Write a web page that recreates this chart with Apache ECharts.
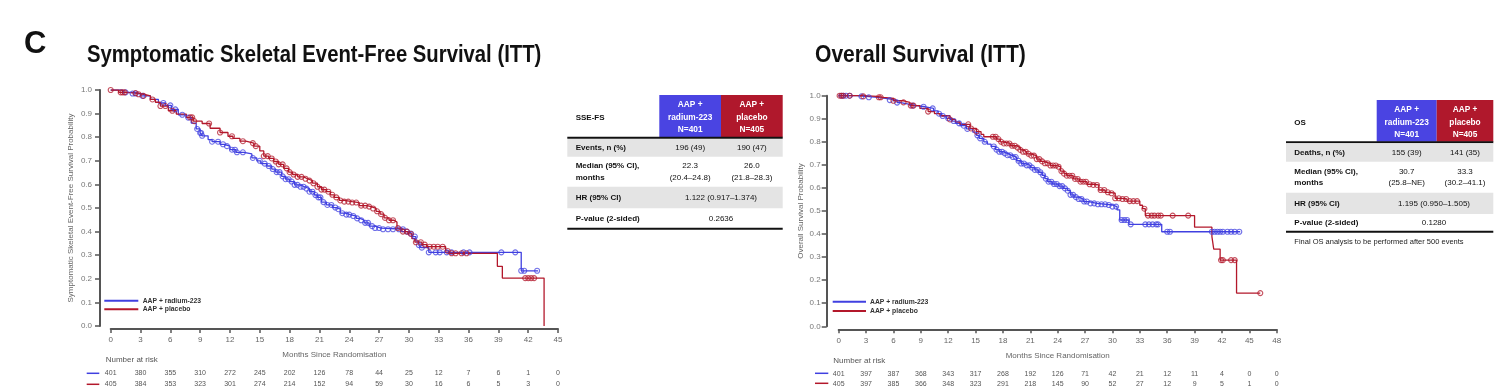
<!DOCTYPE html>
<html><head><meta charset="utf-8">
<script src="https://cdn.jsdelivr.net/npm/echarts@6/dist/echarts.min.js"></script>
<style>html,body{margin:0;padding:0;background:#fff}#c{width:1499px;height:390px}</style>
</head><body><div id="c"></div>
<script>
// ---------- DATA ----------
const riskTicks = [0,3,6,9,12,15,18,21,24,27,30,33,36,39,42,45,48];
// SSE-FS (left) step curves [month, survival]
const sseRadium = [[0,1],[1.2,0.99],[2.2,0.985],[3.0,0.975],[4.0,0.96],[4.8,0.945],[5.5,0.935],[6.1,0.918],[6.8,0.895],[7.6,0.883],[8.1,0.86],[8.6,0.835],[9.0,0.818],[9.2,0.806],[9.8,0.79],[10.2,0.781],[11.0,0.77],[11.4,0.762],[12.0,0.747],[12.6,0.736],[13.4,0.729],[14.2,0.712],[14.7,0.70],[15.1,0.688],[15.7,0.678],[16.2,0.665],[16.6,0.652],[17.2,0.634],[17.6,0.622],[18.0,0.612],[18.5,0.598],[19.0,0.59],[19.5,0.582],[20.0,0.569],[20.5,0.555],[20.8,0.545],[21.2,0.525],[21.7,0.513],[22.3,0.502],[22.7,0.495],[23.1,0.478],[23.6,0.472],[24.1,0.466],[24.7,0.456],[25.1,0.448],[25.5,0.437],[26.0,0.423],[26.6,0.415],[27.2,0.41],[29.6,0.40],[30.0,0.392],[30.3,0.379],[30.7,0.36],[31.0,0.343],[31.2,0.332],[32.0,0.312],[41.3,0.234],[43.0,0.234]];
const ssePlacebo = [[0,1],[0.8,0.99],[1.5,0.987],[2.6,0.982],[3.3,0.975],[4.0,0.96],[4.5,0.948],[5.0,0.932],[5.8,0.912],[6.6,0.898],[7.6,0.884],[8.3,0.868],[9.2,0.858],[10.0,0.838],[11.0,0.82],[11.8,0.804],[12.3,0.795],[13.0,0.783],[13.6,0.775],[14.4,0.762],[15.0,0.742],[15.4,0.72],[15.9,0.71],[16.4,0.697],[16.9,0.685],[17.4,0.668],[17.9,0.652],[18.3,0.642],[18.8,0.632],[19.4,0.624],[19.8,0.616],[20.3,0.605],[20.8,0.59],[21.2,0.578],[21.7,0.569],[22.1,0.556],[22.5,0.545],[23.0,0.532],[23.5,0.527],[24.3,0.523],[25.0,0.51],[25.8,0.506],[26.2,0.498],[26.7,0.486],[27.1,0.474],[27.5,0.458],[28.0,0.448],[28.5,0.44],[28.8,0.415],[29.3,0.40],[29.9,0.39],[30.3,0.37],[30.6,0.355],[31.3,0.345],[31.8,0.336],[33.7,0.318],[34.0,0.308],[38.9,0.253],[39.4,0.203],[43.6,0]];
const sseRadiumCensor = [1.5,2.2,2.5,3.2,5.3,6.0,6.5,7.2,7.8,8.7,9.0,9.1,9.2,10.2,10.8,11.3,11.7,12.2,12.5,12.7,13.3,14.3,15.0,15.5,15.9,16.3,16.7,17.0,17.3,17.6,17.9,18.2,18.5,18.8,19.1,19.4,19.7,20.0,20.3,20.6,20.9,21.1,21.4,21.8,22.2,22.6,22.9,23.3,23.7,24.0,24.4,24.8,25.2,25.6,25.9,26.3,26.6,27.0,27.4,27.9,28.4,29.0,29.4,29.8,30.2,30.6,31.0,31.3,32.0,32.7,33.1,33.8,34.3,35.5,36.1,39.3,40.7,41.3,41.6,42.9];
const ssePlaceboCensor = [0,1.0,1.2,1.4,2.5,2.8,3.3,4.2,5.0,5.5,6.2,8.0,8.2,8.4,9.9,11.0,12.2,13.3,14.3,14.6,15.4,15.8,16.2,16.6,16.9,17.3,17.7,18.0,18.4,18.8,19.2,19.6,20.0,20.4,20.8,21.2,21.5,21.9,22.3,22.7,23.1,23.5,23.9,24.3,24.7,25.2,25.6,26.0,26.4,26.8,27.2,27.6,28.0,28.4,28.9,29.4,29.8,30.2,30.7,31.2,31.6,32.1,32.5,32.9,33.4,33.9,34.3,34.7,35.3,35.8,41.7,42.0,42.3,42.6];
// OS (right)
const osRadium = [[0,1],[2.0,0.997],[3.0,0.993],[4.3,0.986],[5.5,0.981],[6.4,0.97],[6.8,0.962],[7.8,0.957],[8.5,0.952],[9.5,0.945],[10.4,0.934],[10.9,0.922],[11.3,0.912],[11.8,0.902],[12.4,0.89],[12.8,0.88],[13.3,0.87],[14.0,0.856],[14.7,0.842],[15.1,0.828],[15.4,0.815],[15.9,0.80],[16.3,0.79],[16.7,0.78],[17.2,0.766],[17.6,0.757],[18.0,0.75],[18.5,0.742],[18.9,0.734],[19.5,0.718],[20.0,0.706],[20.4,0.698],[21.0,0.688],[21.5,0.678],[21.9,0.668],[22.3,0.655],[22.6,0.64],[22.9,0.627],[23.4,0.617],[24.1,0.608],[24.6,0.598],[25.1,0.588],[25.4,0.57],[25.8,0.56],[26.3,0.552],[26.8,0.541],[27.4,0.533],[28.3,0.529],[29.4,0.526],[30.0,0.519],[30.5,0.505],[30.8,0.461],[31.8,0.442],[35.4,0.41],[44.0,0.41]];
const osPlacebo = [[0,1],[2.7,0.997],[4.2,0.993],[4.9,0.988],[6.0,0.978],[7.1,0.971],[7.8,0.957],[8.9,0.945],[9.8,0.931],[10.5,0.922],[11.1,0.913],[12.2,0.897],[12.8,0.886],[13.3,0.876],[14.4,0.858],[15.1,0.844],[15.6,0.832],[15.9,0.822],[17.3,0.812],[17.7,0.8],[18.0,0.793],[18.8,0.783],[19.5,0.775],[19.9,0.765],[20.2,0.757],[20.6,0.748],[21.0,0.74],[21.7,0.725],[22.1,0.715],[22.4,0.707],[23.2,0.697],[23.9,0.692],[24.3,0.673],[24.7,0.662],[25.0,0.653],[25.7,0.639],[26.4,0.627],[27.2,0.616],[27.9,0.613],[28.5,0.591],[29.2,0.581],[29.7,0.577],[30.3,0.555],[31.0,0.552],[31.6,0.543],[33.0,0.525],[33.3,0.51],[33.6,0.48],[39.0,0.43],[40.9,0.389],[41.1,0.335],[41.8,0.287],[43.6,0.144],[46.2,0.144]];
const osRadiumCensor = [0.3,0.5,0.8,1.2,2.5,3.3,5.6,6.4,8.1,9.3,10.3,11.0,11.4,12.0,12.6,13.2,13.7,14.1,15.2,15.5,16.0,17.0,17.3,17.6,17.9,18.2,18.5,18.8,19.1,19.4,19.7,20.0,20.3,20.6,20.9,21.2,21.5,21.8,22.1,22.4,22.7,23.0,23.3,23.6,23.9,24.2,24.5,24.8,25.1,25.4,25.7,26.0,26.3,26.6,26.9,27.2,27.6,28.0,28.4,28.8,29.2,29.6,30.0,30.4,31.0,31.3,31.6,32.0,33.6,34.0,34.4,34.8,35.0,36.0,36.3,40.9,41.2,41.5,41.8,42.1,42.6,43.0,43.4,43.9];
const osPlaceboCensor = [0.1,0.3,0.5,1.2,2.7,4.4,4.6,6.0,7.1,7.9,8.2,9.8,12.2,14.2,14.5,15.1,16.9,17.2,17.5,17.8,18.1,18.4,18.7,19.0,19.3,19.6,19.9,20.2,20.5,20.8,21.1,21.4,21.7,22.0,22.3,22.6,22.9,23.2,23.5,23.8,24.1,24.4,24.7,25.0,25.3,25.6,25.9,26.2,26.5,26.8,27.1,27.5,27.9,28.3,28.7,29.1,29.5,29.9,30.3,30.7,31.1,31.5,31.9,32.3,32.7,33.5,33.9,34.3,34.6,35.0,35.3,36.6,38.3,41.9,42.1,43.0,43.4,46.2];
// Number at risk
const sseRiskRadium = [401,380,355,310,272,245,202,126,78,44,25,12,7,6,1,0];
const sseRiskPlacebo = [405,384,353,323,301,274,214,152,94,59,30,16,6,5,3,0];
const osRiskRadium = [401,397,387,368,343,317,268,192,126,71,42,21,12,11,4,0,0];
const osRiskPlacebo = [405,397,385,366,348,323,291,218,145,90,52,27,12,9,5,1,0];
// Tables
const sseHeader = ['SSE-FS','AAP +\nradium-223\nN=401','AAP +\nplacebo\nN=405'];
const sseRows = [['Events, n (%)','196 (49)','190 (47)'],['Median (95% CI),\nmonths','22.3\n(20.4–24.8)','26.0\n(21.8–28.3)'],['HR (95% CI)','1.122 (0.917–1.374)'],['P-value (2-sided)','0.2636']];
const osHeader = ['OS','AAP +\nradium-223\nN=401','AAP +\nplacebo\nN=405'];
const osRows = [['Deaths, n (%)','155 (39)','141 (35)'],['Median (95% CI),\nmonths','30.7\n(25.8–NE)','33.3\n(30.2–41.1)'],['HR (95% CI)','1.195 (0.950–1.505)'],['P-value (2-sided)','0.1280']];

// ---------- STYLE ----------
const BLUE='#4040e0', RED='#b3182b', BLUEH='#4a44e2', REDH='#b0182c';
const FF='"Liberation Sans", Arial, sans-serif';

function sAt(curve,t){let v=curve[0][1];for(const p of curve){if(p[0]<=t)v=p[1];else break;}return v;}
function cens(curve,times){return times.map(t=>[t,sAt(curve,t)]);}

const G=[{left:110.7,top:90,width:447.3,height:236,max:45,yoff:10.7,ylm:8},
         {left:838.7,top:95.7,width:438,height:230.6,max:48,yoff:12,ylm:6}];
const grids=G.map(g=>({left:g.left,top:g.top,width:g.width,height:g.height,containLabel:false}));
const xAxes=[],yAxes=[];
const risks=[[sseRiskRadium,sseRiskPlacebo],[osRiskRadium,osRiskPlacebo]];
G.forEach((g,i)=>{
  xAxes.push({gridIndex:i,type:'value',min:0,max:g.max,interval:3,offset:3,
    axisLine:{show:true,onZero:false,lineStyle:{color:'#555',width:2}},
    axisTick:{show:true,length:4,lineStyle:{color:'#555',width:1.5}},
    axisLabel:{fontSize:8,color:'#666',fontFamily:FF,margin:7},
    splitLine:{show:false},
    name:'Months Since Randomisation',nameLocation:'middle',nameGap:22,
    nameTextStyle:{fontSize:8,color:'#666',fontFamily:FF}});
  risks[i].forEach((arr,k)=>{
    xAxes.push({gridIndex:i,type:'value',min:0,max:g.max,interval:3,position:'bottom',offset:44+k*10.5,
      axisLine:{show:false},axisTick:{show:false},splitLine:{show:false},
      axisLabel:{fontSize:7,color:'#555',fontFamily:FF,margin:0,
        formatter:v=>{const a=arr[Math.round(v/3)];return a===undefined?'':String(a);}}});
  });
  yAxes.push({gridIndex:i,type:'value',min:0,max:1,interval:0.1,offset:g.yoff,
    axisLine:{show:true,onZero:false,lineStyle:{color:'#555',width:2}},
    axisTick:{show:true,length:5,lineStyle:{color:'#555',width:1.5}},
    axisLabel:{fontSize:8,color:'#777',fontFamily:FF,margin:g.ylm,formatter:v=>v.toFixed(1)},
    splitLine:{show:false},
    name:i===0?'Symptomatic Skeletal Event-Free Survival Probability':'Overall Survival Probability',
    nameLocation:'middle',nameRotate:90,nameGap:i===0?25:22,
    nameTextStyle:{fontSize:8,color:'#666',fontFamily:FF}});
});
function lineS(xi,yi,data,color){return {type:'line',xAxisIndex:xi,yAxisIndex:yi,data,step:'end',showSymbol:false,
  lineStyle:{color,width:1.3},itemStyle:{color},z:2,animation:false};}
function censS(xi,yi,data,color){return {type:'scatter',xAxisIndex:xi,yAxisIndex:yi,data,symbol:'circle',symbolSize:5,
  itemStyle:{color:'rgba(255,255,255,0)',borderColor:color,borderWidth:1.1,opacity:0.75},z:3,animation:false};}
const series=[
  lineS(0,0,sseRadium,BLUE),lineS(0,0,ssePlacebo,RED),
  censS(0,0,cens(sseRadium,sseRadiumCensor),BLUE),censS(0,0,cens(ssePlacebo,ssePlaceboCensor),RED),
  lineS(3,1,osRadium,BLUE),lineS(3,1,osPlacebo,RED),
  censS(3,1,cens(osRadium,osRadiumCensor),BLUE),censS(3,1,cens(osPlacebo,osPlaceboCensor),RED)
];

// ---------- GRAPHIC (titles, legends, tables) ----------
const gr=[];
function txt(x,y,text,o){o=o||{};gr.push({type:'text',silent:true,x:x,y:y,scaleX:o.sx||1,style:{x:0,y:0,text,fill:o.fill||'#111',
  fontSize:o.size||8,fontWeight:o.weight||'normal',fontFamily:o.family||FF,align:o.align||'left',
  verticalAlign:o.va||'middle',lineHeight:o.lh||11.7}});}
function rect(x,y,w,h,fill){gr.push({type:'rect',silent:true,shape:{x,y,width:w,height:h},style:{fill}});}
function hl(x1,x2,y,w,c){gr.push({type:'line',silent:true,shape:{x1,y1:y,x2,y2:y},style:{stroke:c||'#111',lineWidth:w||1}});}

txt(24,44,'C',{size:31,weight:'bold'});
txt(87,55,'Symptomatic Skeletal Event-Free Survival (ITT)',{size:24.5,weight:'bold',sx:0.828});
txt(815,55,'Overall Survival (ITT)',{size:24.5,weight:'bold',sx:0.86});

// legends
[[104.3,138.3,300.7,309.3,142.7],[832.7,866,301.7,311,870]].forEach(l=>{
  hl(l[0],l[1],l[2],2,BLUE);hl(l[0],l[1],l[3],2,RED);
  txt(l[4],l[2],'AAP + radium-223',{size:6.8,weight:'bold',fill:'#333'});
  txt(l[4],l[3],'AAP + placebo',{size:6.8,weight:'bold',fill:'#333'});
});
// number at risk captions
[[105.7,360,86.7,99.3,373.3,384.3],[833.3,360.7,815,828.3,373.3,383.3]].forEach(r=>{
  txt(r[0],r[1],'Number at risk',{size:8,fill:'#555'});
  hl(r[2],r[3],r[4],1.5,BLUE);hl(r[2],r[3],r[5],1.5,RED);
});

function table(T,hdr,rows,foot){
  rect(T.c1,T.hTop,T.c2-T.c1,T.hBot-T.hTop,BLUEH);
  rect(T.c2,T.hTop,T.right-T.c2,T.hBot-T.hTop,REDH);
  txt(T.tx,T.hdrY,hdr[0],{size:8,weight:'bold'});
  txt((T.c1+T.c2)/2,T.hdrY,hdr[1],{size:8.3,weight:'bold',fill:'#fff',align:'center',lh:12.3});
  txt((T.c2+T.right)/2,T.hdrY,hdr[2],{size:8.3,weight:'bold',fill:'#fff',align:'center',lh:12.3});
  hl(T.left,T.right,T.hBot+0.5,2);
  rows.forEach((r,i)=>{
    const y0=T.rows[i],y1=T.rows[i+1];
    if(i%2===0) rect(T.left,y0,T.right-T.left,y1-y0,'#e4e4e4');
    const ym=(y0+y1)/2;
    txt(T.tx,ym,r[0],{size:8,weight:'bold'});
    if(r.length===3){
      txt((T.c1+T.c2)/2,ym,r[1],{size:8,align:'center'});
      txt((T.c2+T.right)/2,ym,r[2],{size:8,align:'center'});
    } else {
      txt(T.mid,ym,r[1],{size:8,align:'center'});
    }
  });
  hl(T.left,T.right,T.rows[rows.length]+0.5,2);
  if(foot) txt(T.tx,T.footY,foot,{size:7.5,fill:'#222'});
}
table({left:567.3,right:782.7,c1:659.3,c2:721,hTop:95,hBot:137.3,tx:575.7,hdrY:117.5,mid:721,
  rows:[139,156.7,186.7,208.3,228.3]},sseHeader,sseRows);
table({left:1286,right:1493.3,c1:1376.7,c2:1436.7,hTop:100,hBot:141.7,tx:1294.3,hdrY:122.5,mid:1434,
  rows:[143.3,161.7,192.7,214,231.3],footY:241.7},osHeader,osRows,'Final OS analysis to be performed after 500 events');

const chart=echarts.init(document.getElementById('c'),null,{renderer:'canvas'});
chart.setOption({animation:false,backgroundColor:'#fff',grid:grids,xAxis:xAxes,yAxis:yAxes,series,graphic:gr});
</script></body></html>
